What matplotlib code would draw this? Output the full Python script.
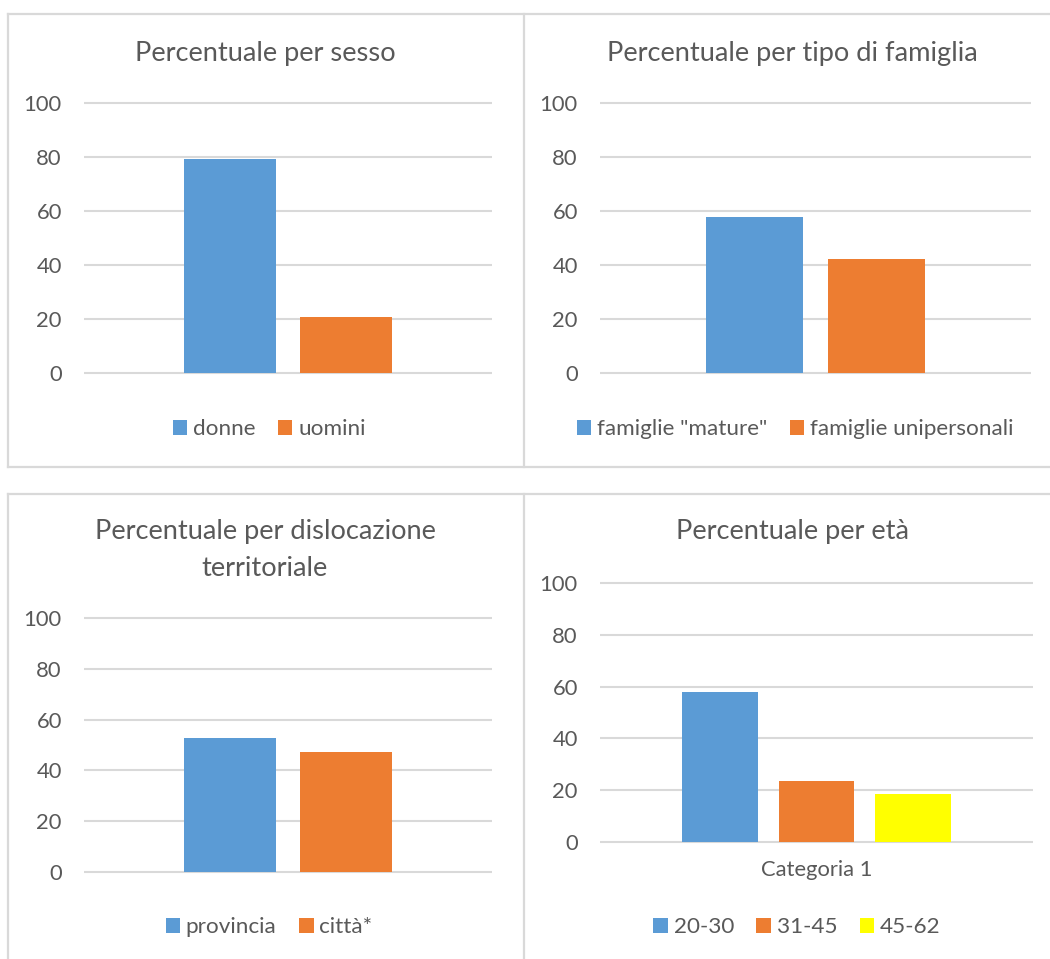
import matplotlib.pyplot as plt
from matplotlib.patches import Patch
from matplotlib.lines import Line2D

plt.rcParams['font.family'] = ['Lato', 'DejaVu Sans']

# Dati dei quattro grafici (percentuali)
sesso_labels = ['donne', 'uomini']
sesso_values = [79.2, 20.8]

famiglia_labels = ['famiglie "mature"', 'famiglie unipersonali']
famiglia_values = [57.7, 42.3]

zona_labels = ['provincia', 'città*']
zona_values = [52.7, 47.3]

eta_labels = ['20-30', '31-45', '45-62']
eta_values = [57.9, 23.6, 18.5]
eta_category = 'Categoria 1'

y_ticks = [0, 20, 40, 60, 80, 100]

BLUE = '#5B9BD5'
ORANGE = '#ED7D31'
YELLOW = '#FFFF00'
TEXT = '#595959'
GRID = '#D9D9D9'

W, H = 1050, 959
fig = plt.figure(figsize=(W / 100, H / 100), dpi=100)


def px_rect(x0, y0, x1, y1):
    return [x0 / W, 1 - y1 / H, (x1 - x0) / W, (y1 - y0) / H]


def fx(x):
    return x / W


def fy(y):
    return 1 - y / H


# cornici dei grafici
for xs, ys in [([7.5, 1060], [13.5, 13.5]), ([7.5, 7.5], [13.5, 466.5]),
               ([7.5, 1060], [466.5, 466.5]), ([523.5, 523.5], [13.5, 466.5]),
               ([7.5, 1060], [493.5, 493.5]), ([7.5, 7.5], [493.5, 970]),
               ([523.5, 523.5], [493.5, 970])]:
    fig.add_artist(Line2D([fx(x) for x in xs], [fy(y) for y in ys],
                          color=GRID, lw=1.6))


def bar_panel(rect, labels, values, colors, width, step, title, title_pos,
              legend_pos, category=None):
    ax = fig.add_axes(px_rect(*rect))
    n = len(values)
    offsets = [(i - (n - 1) / 2) * step for i in range(n)]
    ax.hlines(y_ticks, -0.5, 0.5, color=GRID, lw=1.5, zorder=0, clip_on=False)
    for off, v, c in zip(offsets, values, colors):
        ax.bar(off, v, width=width, color=c, zorder=2)
    ax.set_xlim(-0.5, 0.5)
    ax.set_ylim(0, 100)
    ax.set_yticks(y_ticks)
    ax.tick_params(axis='y', length=0, pad=16, labelsize=15.8, labelcolor=TEXT)
    if category:
        ax.set_xticks([0])
        ax.set_xticklabels([category])
        ax.tick_params(axis='x', length=0, pad=13, labelsize=15.8,
                       labelcolor=TEXT)
    else:
        ax.set_xticks([])
    for s in ax.spines.values():
        s.set_visible(False)

    for i, line in enumerate(title):
        fig.text(fx(title_pos[0]), fy(title_pos[1] + i * 36), line,
                 ha='center', va='center', fontsize=19.6, color=TEXT)

    handles = [Patch(facecolor=c, edgecolor='none') for c in colors]
    fig.legend(handles, labels, loc='center',
               bbox_to_anchor=(fx(legend_pos[0]), fy(legend_pos[1])),
               ncol=n, frameon=False, fontsize=16.2, labelcolor=TEXT,
               handlelength=0.65, handleheight=0.65, handletextpad=0.25,
               columnspacing=1.0, borderpad=0)
    return ax


bar_panel((84, 102.7, 492, 373.3), sesso_labels, sesso_values,
          [BLUE, ORANGE], 0.225, 0.284,
          ['Percentuale per sesso'], (265, 53), (269, 429))

bar_panel((600, 102.7, 1031, 373.3), famiglia_labels, famiglia_values,
          [BLUE, ORANGE], 0.224, 0.284,
          ['Percentuale per tipo di famiglia'], (792, 53), (795, 429))

bar_panel((84, 618.3, 492, 871.7), zona_labels, zona_values,
          [BLUE, ORANGE], 0.225, 0.284,
          ['Percentuale per dislocazione', 'territoriale'], (265, 532),
          (269, 927))

bar_panel((600, 582.7, 1033, 842.3), eta_labels, eta_values,
          [BLUE, ORANGE, YELLOW], 0.175, 0.222,
          ['Percentuale per età'], (793, 532), (797, 927),
          category=eta_category)

fig.savefig('out.png', dpi=100, facecolor='white')
